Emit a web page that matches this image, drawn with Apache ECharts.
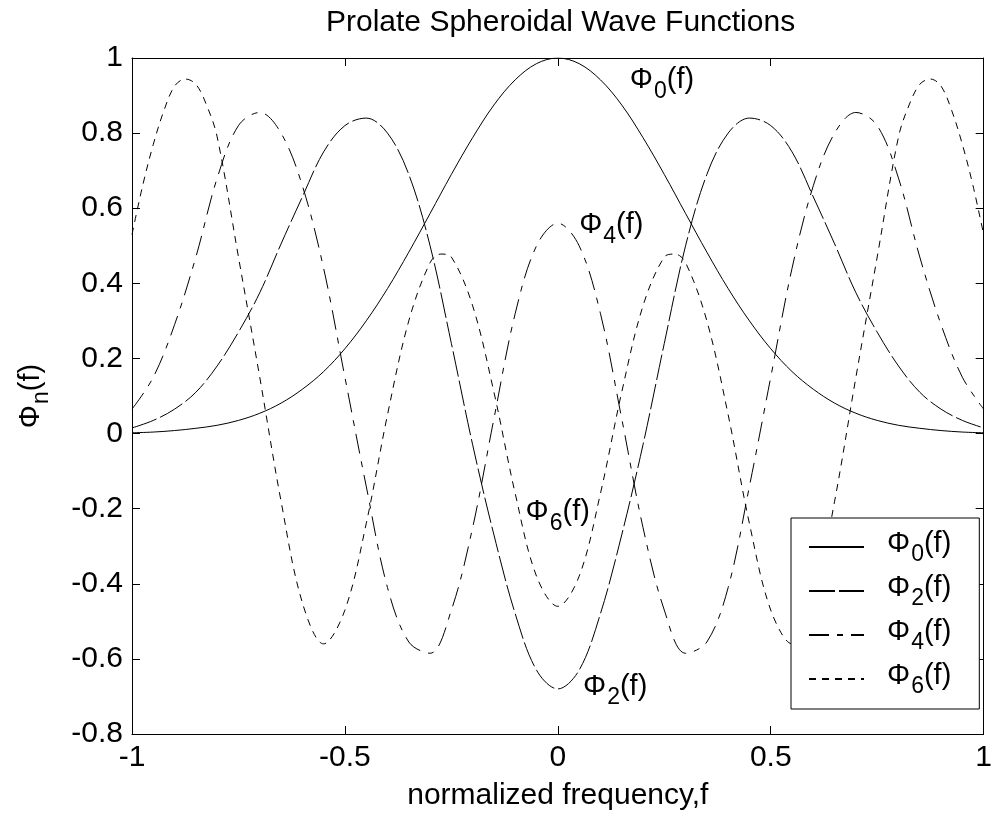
<!DOCTYPE html>
<html>
<head>
<meta charset="utf-8">
<script src="https://cdn.jsdelivr.net/npm/echarts@6/dist/echarts.min.js"></script>
<style>
  html, body { margin: 0; padding: 0; background: #ffffff; }
  #chart { width: 995px; height: 817px; }
</style>
</head>
<body>
<div id="chart"></div>
<script>
// Normalized frequency samples, -1 .. 1
const freq = [
  -1.00, -0.95, -0.90, -0.85, -0.80, -0.75, -0.70, -0.65, -0.60, -0.55,
  -0.50, -0.45, -0.40, -0.35, -0.30, -0.25, -0.20, -0.15, -0.10, -0.05,
   0.00,
   0.05,  0.10,  0.15,  0.20,  0.25,  0.30,  0.35,  0.40,  0.45,  0.50,
   0.55,  0.60,  0.65,  0.70,  0.75,  0.80,  0.85,  0.90,  0.95,  1.00
];

// Φ0(f)
const phi0 = [
  0.002, 0.004, 0.008, 0.014, 0.022, 0.035, 0.054, 0.081, 0.118, 0.165,
  0.226, 0.300, 0.386, 0.483, 0.586, 0.690, 0.788, 0.875, 0.942, 0.985,
  1.000,
  0.985, 0.942, 0.875, 0.788, 0.690, 0.586, 0.483, 0.386, 0.300, 0.226,
  0.165, 0.118, 0.081, 0.054, 0.035, 0.022, 0.014, 0.008, 0.004, 0.002
];

// Φ2(f)
const phi2 = [
  0.015, 0.035, 0.065, 0.110, 0.180, 0.270, 0.375, 0.505, 0.630, 0.750,
  0.820, 0.840, 0.800, 0.690, 0.500, 0.240, -0.030, -0.270, -0.480, -0.630,
  -0.680,
  -0.630, -0.480, -0.270, -0.030, 0.240, 0.500, 0.690, 0.800, 0.840, 0.820,
  0.750, 0.630, 0.505, 0.375, 0.270, 0.180, 0.110, 0.065, 0.035, 0.015
];

// Φ4(f)
const phi4 = [
  0.065, 0.150, 0.290, 0.470, 0.680, 0.820, 0.855, 0.800, 0.660, 0.440,
  0.150, -0.140, -0.410, -0.555, -0.585, -0.470, -0.250, 0.040, 0.320, 0.500,
  0.560,
  0.500, 0.320, 0.040, -0.250, -0.470, -0.585, -0.555, -0.410, -0.140, 0.150,
  0.440, 0.660, 0.800, 0.855, 0.820, 0.680, 0.470, 0.290, 0.150, 0.065
];

// Φ6(f) oscillates fastest, so it is sampled more densely near its outer lobes
const freq6 = [
  -1.000, -0.975, -0.950, -0.925, -0.900, -0.875, -0.850, -0.825, -0.800,
  -0.750, -0.700, -0.650, -0.600, -0.550, -0.500, -0.450, -0.400, -0.350,
  -0.300, -0.275, -0.250, -0.200, -0.150, -0.100, -0.050,
   0.000,
   0.050,  0.100,  0.150,  0.200,  0.250,  0.275,  0.300,
   0.350,  0.400,  0.450,  0.500,  0.550,  0.600,  0.650,  0.700,  0.750,
   0.800,  0.825,  0.850,  0.875,  0.900,  0.925,  0.950,  0.975,  1.000
];
const phi6 = [
  0.530, 0.660, 0.770, 0.860, 0.925, 0.944, 0.930, 0.875, 0.790,
  0.470, 0.150, -0.180, -0.450, -0.560, -0.470, -0.240, 0.050, 0.300,
  0.455, 0.478, 0.470, 0.340, 0.110, -0.160, -0.380,
  -0.460,
  -0.380, -0.160, 0.110, 0.340, 0.470, 0.478, 0.455,
  0.300, 0.050, -0.240, -0.470, -0.560, -0.450, -0.180, 0.150, 0.470,
  0.790, 0.875, 0.930, 0.944, 0.925, 0.860, 0.770, 0.660, 0.530
];

const orders = ['0', '2', '4', '6'];
const seriesFreq = [freq, freq, freq, freq6];
const seriesValues = [phi0, phi2, phi4, phi6];

// In-plot curve labels: [order, f, value at text centre]
const curveNotes = [
  ['0', 0.168, 0.931],
  ['2', 0.058, -0.683],
  ['4', 0.049, 0.545],
  ['6', -0.077, -0.219]
];

const xTicks = { min: -1, max: 1, step: 0.5 };
const yTicks = { min: -0.8, max: 1, step: 0.2 };

const FONT = '"Liberation Sans", Arial, Helvetica, sans-serif';
const dashes = [
  'solid',
  [26, 4],
  [20, 8, 6, 8],
  [7, 6]
];

const rich = {
  m: { fontFamily: FONT, fontSize: 29, color: '#000', lineHeight: 36, verticalAlign: 'top' },
  s: { fontFamily: FONT, fontSize: 23, color: '#000', lineHeight: 24, verticalAlign: 'top', padding: [14, 0, 0, 1] }
};

const phiText = n => `{m|Φ}{s|${n}}{m|(f)}`;
const seriesName = n => `Φ${n}(f)`;

const chart = echarts.init(document.getElementById('chart'), null, { renderer: 'canvas' });

const axisCommon = {
  type: 'value',
  axisLine: { show: true, onZero: false, lineStyle: { color: '#000', width: 1 } },
  axisTick: { show: true, inside: true, length: 8, lineStyle: { color: '#000', width: 1 } },
  splitLine: { show: false }
};

const series = orders.map((n, i) => {
  const note = curveNotes.find(c => c[0] === n);
  const xs = seriesFreq[i];
  return {
    name: seriesName(n),
    type: 'line',
    xAxisIndex: 0,
    yAxisIndex: 0,
    data: xs.map((f, k) => [f, seriesValues[i][k]]),
    smooth: 0.35,
    symbol: 'none',
    showSymbol: false,
    animation: false,
    itemStyle: { color: 'rgba(0,0,0,0)' },
    lineStyle: { color: '#000', width: 1, type: dashes[i] },
    emphasis: { disabled: true },
    markPoint: {
      silent: true,
      animation: false,
      symbol: 'circle',
      symbolSize: 1,
      itemStyle: { color: 'rgba(0,0,0,0)' },
      label: {
        show: true,
        position: 'right',
        distance: 0,
        formatter: phiText(n),
        rich: rich
      },
      data: [{ coord: [note[1], note[2]] }]
    }
  };
});

chart.setOption({
  backgroundColor: '#fff',
  animation: false,
  title: {
    text: 'Prolate Spheroidal Wave Functions',
    left: 326,
    top: 8,
    padding: 0,
    textStyle: { fontFamily: FONT, fontSize: 30, fontWeight: 'normal', color: '#000' }
  },
  grid: { left: 132, right: 5, top: 58, bottom: 83, containLabel: false },
  legend: {
    orient: 'vertical',
    left: 791,
    top: 518,
    padding: [11, 28, 11, 17],
    itemGap: 7,
    itemWidth: 55,
    itemHeight: 14,
    borderColor: '#000',
    borderWidth: 1,
    backgroundColor: '#fff',
    selectedMode: false,
    data: orders.map(seriesName),
    formatter: name => phiText(name.charAt(1)),
    itemStyle: { color: 'rgba(0,0,0,0)', borderColor: 'rgba(0,0,0,0)', borderWidth: 0 },
    textStyle: { rich: rich, padding: [0, 0, 0, 18] }
  },
  xAxis: [
    Object.assign({}, axisCommon, {
      position: 'bottom',
      min: xTicks.min, max: xTicks.max, interval: xTicks.step,
      name: 'normalized frequency,f',
      nameLocation: 'middle',
      nameGap: 47,
      nameTextStyle: { fontFamily: FONT, fontSize: 30, color: '#000' },
      axisLabel: { show: true, margin: 9, fontFamily: FONT, fontSize: 30, color: '#000' }
    }),
    Object.assign({}, axisCommon, {
      position: 'top',
      min: xTicks.min, max: xTicks.max, interval: xTicks.step,
      axisLabel: { show: false }
    })
  ],
  yAxis: [
    Object.assign({}, axisCommon, {
      position: 'left',
      min: yTicks.min, max: yTicks.max, interval: yTicks.step,
      name: phiText('n'),
      nameLocation: 'middle',
      nameRotate: 90,
      nameGap: 80,
      nameTextStyle: { rich: rich },
      axisLabel: { show: true, margin: 9, fontFamily: FONT, fontSize: 30, color: '#000' }
    }),
    Object.assign({}, axisCommon, {
      position: 'right',
      min: yTicks.min, max: yTicks.max, interval: yTicks.step,
      axisLabel: { show: false }
    })
  ],
  series: series
});
</script>
</body>
</html>
